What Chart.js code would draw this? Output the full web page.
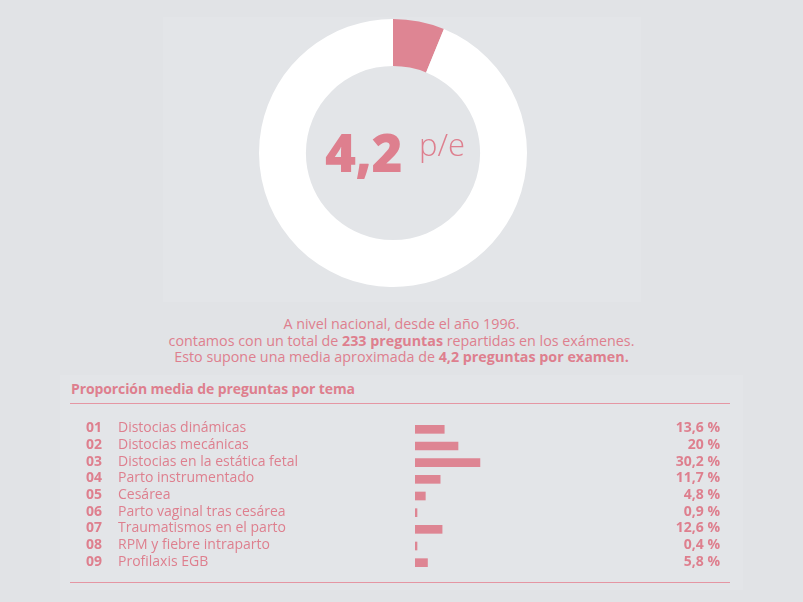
<!DOCTYPE html>
<html>
<head>
<meta charset="utf-8">
<script src="https://cdn.jsdelivr.net/npm/chart.js@4.4.1/dist/chart.umd.min.js"></script>
<style>
  html, body { margin: 0; padding: 0; }
  body {
    width: 803px; height: 602px; position: relative; overflow: hidden;
    background: #e1e3e6; font-family: "Open Sans", sans-serif; color: #de7f8e;
  }
  .panel { position: absolute; background: #e3e5e8; }
  #donut-wrap { position: absolute; left: 259px; top: 19px; width: 268px; height: 268px; }
  #big { position: absolute; left: 325px; top: 122px; font-size: 53px; font-weight: 800; line-height: 60px; letter-spacing: -0.5px; }
  #unit { position: absolute; left: 419px; top: 124px; font-size: 31px; font-weight: 300; line-height: 40px; }
  #intro { position: absolute; left: 0; width: 803px; top: 316px; text-align: center; font-size: 14.3px; line-height: 16.5px; }
  #intro b { font-weight: 700; }
  #title { position: absolute; left: 71px; top: 379px; font-size: 14px; font-weight: 700; letter-spacing: -0.1px; }
  .rule { position: absolute; left: 70px; width: 660px; height: 1px; background: #e596a3; }
  #bars-wrap { position: absolute; left: 70px; top: 421px; width: 660px; height: 150px; }
</style>
</head>
<body>
<div class="panel" style="left:163px;top:17px;width:478px;height:285px;"></div>
<div class="panel" style="left:60px;top:375px;width:683px;height:215px;"></div>

<div id="donut-wrap"><canvas id="donut"></canvas></div>
<div id="big">4,2</div>
<div id="unit">p/e</div>

<div id="intro">
  A nivel nacional, desde el año 1996.<br>
  contamos con un total de <b>233 preguntas</b> repartidas en los exámenes.<br>
  Esto supone una media aproximada de <b>4,2 preguntas por examen.</b>
</div>

<div id="title">Proporción media de preguntas por tema</div>
<div class="rule" style="top:403px;"></div>
<div id="bars-wrap"><canvas id="bars"></canvas></div>
<div class="rule" style="top:582px;"></div>

<script>
// Data
const donutLabels = ['Preguntas', 'Resto'];
const donutValues = [6.2, 93.8];

const topicCodes = ['01', '02', '03', '04', '05', '06', '07', '08', '09'];
const topicNames = [
  'Distocias dinámicas',
  'Distocias mecánicas',
  'Distocias en la estática fetal',
  'Parto instrumentado',
  'Cesárea',
  'Parto vaginal tras cesárea',
  'Traumatismos en el parto',
  'RPM y fiebre intraparto',
  'Profilaxis EGB'
];
const topicShares = [13.6, 20, 30.2, 11.7, 4.8, 0.9, 12.6, 0.4, 5.8];

const pink = '#de8593';
const textPink = '#de7f8e';

// Donut
new Chart(document.getElementById('donut'), {
  type: 'doughnut',
  data: {
    labels: donutLabels,
    datasets: [{
      data: donutValues,
      backgroundColor: [pink, '#ffffff'],
      borderWidth: 0
    }]
  },
  options: {
    responsive: true,
    maintainAspectRatio: false,
    animation: false,
    cutout: '65%',
    plugins: { legend: { display: false }, tooltip: { enabled: false } }
  }
});

// Row labels: code, name and percentage, placed on the category scale
const rowLabels = {
  id: 'rowLabels',
  afterDatasetsDraw(chart) {
    const ctx = chart.ctx;
    const y = chart.scales.y;
    ctx.save();
    ctx.fillStyle = textPink;
    ctx.textBaseline = 'middle';
    topicCodes.forEach((code, i) => {
      const py = y.getPixelForValue(i) - 1;
      ctx.textAlign = 'left';
      ctx.font = '700 14px "Open Sans"';
      ctx.fillText(code, 16, py);
      ctx.font = '400 14px "Open Sans"';
      ctx.fillText(topicNames[i], 48, py);
      ctx.textAlign = 'right';
      ctx.font = '700 14px "Open Sans"';
      ctx.fillText(String(topicShares[i]).replace('.', ',') + ' %', 650, py);
    });
    ctx.restore();
  }
};

new Chart(document.getElementById('bars'), {
  type: 'bar',
  data: {
    labels: topicNames,
    datasets: [{
      data: topicShares,
      backgroundColor: pink,
      borderWidth: 0,
      barThickness: 8,
      minBarLength: 2
    }]
  },
  options: {
    indexAxis: 'y',
    responsive: true,
    maintainAspectRatio: false,
    animation: false,
    layout: { padding: { left: 345, right: 100, top: 0, bottom: 0 } },
    scales: {
      x: { display: false, min: 0, max: 100 },
      y: { display: false }
    },
    plugins: { legend: { display: false }, tooltip: { enabled: false } }
  },
  plugins: [rowLabels]
});
</script>
</body>
</html>
